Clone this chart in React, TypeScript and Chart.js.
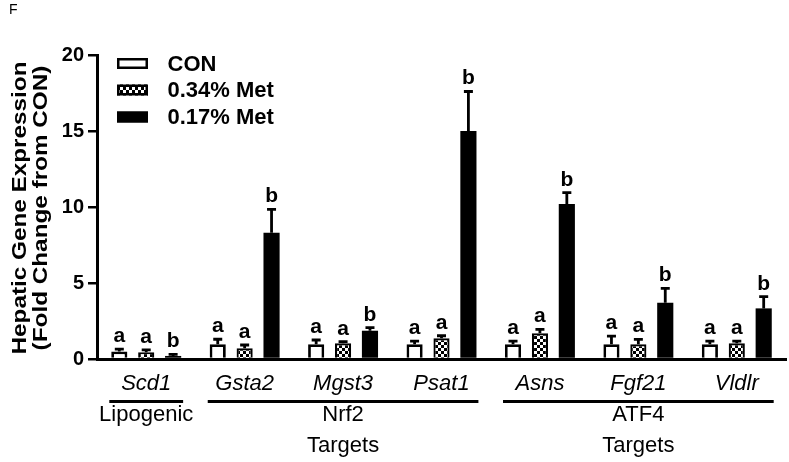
import React, { useEffect, useRef } from "react";
import { Chart, registerables } from "chart.js";

Chart.register(...registerables);

const FONT = "'Liberation Sans', Arial, Helvetica, sans-serif";

const panelLabel = "F";
const categories = ["Scd1", "Gsta2", "Mgst3", "Psat1", "Asns", "Fgf21", "Vldlr"];
const seriesNames = ["CON", "0.34% Met", "0.17% Met"];

const conValues = [0.5, 0.97, 0.97, 0.97, 0.97, 0.97, 0.97];
const conErrors = [0.15, 0.33, 0.28, 0.21, 0.21, 0.54, 0.21];
const met034Values = [0.45, 0.7, 1.03, 1.36, 1.69, 0.97, 1.03];
const met034Errors = [0.15, 0.22, 0.11, 0.17, 0.26, 0.32, 0.15];
const met017Values = [0.2, 8.3, 1.86, 15.0, 10.2, 3.7, 3.33];
const met017Errors = [0.1, 1.55, 0.2, 2.6, 0.75, 0.95, 0.77];

const conLetters = ["a", "a", "a", "a", "a", "a", "a"];
const met034Letters = ["a", "a", "a", "a", "a", "a", "a"];
const met017Letters = ["b", "b", "b", "b", "b", "b", "b"];

const groupLabels = [["Lipogenic"], ["Nrf2", "Targets"], ["ATF4", "Targets"]];
const groupStarts = [0, 1, 4];
const groupEnds = [0, 3, 6];

const yTicks = [0, 5, 10, 15, 20];
const yTitle = ["Hepatic Gene Expression", "(Fold Change from CON)"];

function makePattern(): CanvasPattern | string {
  const c = document.createElement("canvas");
  c.width = 6;
  c.height = 6;
  const g = c.getContext("2d");
  if (!g) return "#888";
  g.fillStyle = "#fff";
  g.fillRect(0, 0, 6, 6);
  g.fillStyle = "#000";
  g.fillRect(0, 0, 3, 3);
  g.fillRect(3, 3, 3, 3);
  const p = g.createPattern(c, "repeat");
  return p || "#888";
}

export default function App() {
  const ref = useRef<HTMLCanvasElement | null>(null);

  useEffect(() => {
    if (!ref.current) return;
    const pattern = makePattern();
    const errs = [conErrors, met034Errors, met017Errors];
    const letters = [conLetters, met034Letters, met017Letters];

    const annotate = {
      id: "annotate",
      afterDatasetsDraw(chart: any) {
        const ctx = chart.ctx as CanvasRenderingContext2D;
        const ys = chart.scales.y;
        ctx.save();
        chart.data.datasets.forEach((ds: any, i: number) => {
          const meta = chart.getDatasetMeta(i);
          meta.data.forEach((bar: any, j: number) => {
            const v = ds.data[j] as number;
            const top = ys.getPixelForValue(v + errs[i][j]);
            const capHalf = 4.5;
            ctx.strokeStyle = "#000";
            ctx.lineWidth = 2.8;
            ctx.beginPath();
            ctx.moveTo(bar.x, bar.y);
            ctx.lineTo(bar.x, top);
            ctx.moveTo(bar.x - capHalf, top);
            ctx.lineTo(bar.x + capHalf, top);
            ctx.stroke();
            ctx.fillStyle = "#000";
            ctx.font = `bold 21px ${FONT}`;
            ctx.textAlign = "center";
            ctx.textBaseline = "alphabetic";
            ctx.fillText(letters[i][j], bar.x, top - 7);
          });
        });
        ctx.restore();
      },
      afterDraw(chart: any) {
        const ctx = chart.ctx as CanvasRenderingContext2D;
        const xs = chart.scales.x;
        const area = chart.chartArea;
        ctx.save();
        ctx.fillStyle = "#000";
        ctx.strokeStyle = "#000";

        // panel label
        ctx.font = `14px ${FONT}`;
        ctx.textAlign = "left";
        ctx.textBaseline = "alphabetic";
        ctx.fillText(panelLabel, 9, 14);

        // group lines and labels
        const cw = xs.width / categories.length;
        groupStarts.forEach((s, g) => {
          const x0 = xs.getPixelForValue(s) - 0.375 * cw;
          const x1 = xs.getPixelForValue(groupEnds[g]) + 0.375 * cw;
          ctx.lineWidth = 3;
          ctx.beginPath();
          ctx.moveTo(x0, area.bottom + 42.5);
          ctx.lineTo(x1, area.bottom + 42.5);
          ctx.stroke();
          ctx.font = `22px ${FONT}`;
          ctx.textAlign = "center";
          ctx.textBaseline = "alphabetic";
          groupLabels[g].forEach((t, k) => {
            ctx.fillText(t, (x0 + x1) / 2, area.bottom + 62 + k * 31);
          });
        });

        // legend
        const rows = [8.5, 35, 62];
        const fills: any[] = ["#fff", pattern, "#000"];
        rows.forEach((dy, i) => {
          const cy = area.top + dy;
          const bx = area.left + 20;
          const bw = 31;
          const bh = 11;
          ctx.fillStyle = fills[i];
          ctx.fillRect(bx, cy - bh / 2, bw, bh);
          ctx.lineWidth = 2.5;
          ctx.strokeStyle = "#000";
          ctx.strokeRect(bx + 1.25, cy - bh / 2 + 1.25, bw - 2.5, bh - 2.5);
          ctx.fillStyle = "#000";
          ctx.font = `bold 22px ${FONT}`;
          ctx.textAlign = "left";
          ctx.textBaseline = "middle";
          ctx.fillText(seriesNames[i], area.left + 70.5, cy + 1);
        });

        // y title
        ctx.font = `bold 20px ${FONT}`;
        ctx.textAlign = "center";
        ctx.textBaseline = "middle";
        const w0 = ctx.measureText(yTitle[0]).width;
        const sx = 293 / w0;
        const cxs = [20, 41];
        yTitle.forEach((t, k) => {
          ctx.save();
          ctx.translate(cxs[k], 208);
          ctx.rotate(-Math.PI / 2);
          ctx.scale(sx, 1);
          ctx.fillText(t, 0, 0);
          ctx.restore();
        });
        ctx.restore();
      },
    };

    const chart = new Chart(ref.current, {
      type: "bar",
      data: {
        labels: categories,
        datasets: [
          {
            label: seriesNames[0],
            data: conValues,
            backgroundColor: "#fff",
            borderColor: "#000",
            borderWidth: 2.8,
            categoryPercentage: 0.82,
            barPercentage: 0.6,
          },
          {
            label: seriesNames[1],
            data: met034Values,
            backgroundColor: pattern as any,
            borderColor: "#000",
            borderWidth: 2.2,
            categoryPercentage: 0.82,
            barPercentage: 0.6,
          },
          {
            label: seriesNames[2],
            data: met017Values,
            backgroundColor: "#000",
            borderColor: "#000",
            borderWidth: 0,
            categoryPercentage: 0.82,
            barPercentage: 0.6,
          },
        ],
      },
      options: {
        responsive: false,
        animation: false,
        events: [],
        layout: { padding: { top: 55, right: 3, left: 0, bottom: 0 } },
        plugins: {
          legend: { display: false },
          tooltip: { enabled: false },
          title: { display: false },
        },
        scales: {
          x: {
            type: "category",
            offset: true,
            grid: { display: false, drawTicks: false, drawOnChartArea: false },
            border: { display: true, color: "#000", width: 3 },
            ticks: {
              color: "#000",
              font: { family: FONT, size: 22, style: "italic" },
              padding: 12,
              maxRotation: 0,
              autoSkip: false,
            },
            afterFit: (s: any) => {
              s.height = 103;
            },
          },
          y: {
            type: "linear",
            min: 0,
            max: 20,
            afterBuildTicks: (s: any) => {
              s.ticks = yTicks.map((v) => ({ value: v }));
            },
            grid: {
              drawOnChartArea: false,
              drawTicks: true,
              tickLength: 9,
              color: "#000",
              lineWidth: 2.5,
            },
            border: { display: true, color: "#000", width: 3 },
            ticks: {
              color: "#000",
              font: { family: FONT, size: 20, weight: "bold" },
              padding: 4,
            },
            afterFit: (s: any) => {
              s.width = 97;
            },
          },
        },
      },
      plugins: [annotate],
    } as any);

    return () => {
      chart.destroy();
    };
  }, []);

  return (
    <div style={{ position: "fixed", left: 0, top: 0, width: 789, height: 462, background: "#fff" }}>
      <canvas ref={ref} width={789} height={462} style={{ display: "block" }} />
    </div>
  );
}
